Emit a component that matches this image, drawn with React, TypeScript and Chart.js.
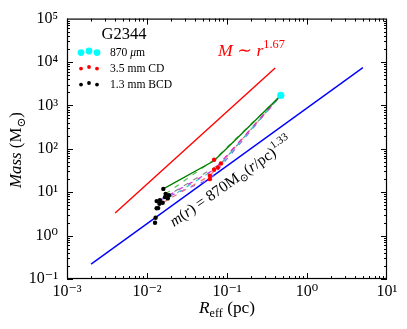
import React, { useEffect, useRef } from 'react';
import { Chart, registerables } from 'chart.js';
Chart.register(...registerables);

const SERIF = '"Liberation Serif", "DejaVu Serif", serif';

// Axis ticks
const xTickValues = [1e-3, 1e-2, 1e-1, 1, 10];
const xTickLabels = ['10⁻³', '10⁻²', '10⁻¹', '10⁰', '10¹'];
const yTickValues = [0.1, 1, 10, 100, 1e3, 1e4, 1e5];
const yTickLabels = ['10⁻¹', '10⁰', '10¹', '10²', '10³', '10⁴', '10⁵'];

// 870 um clump
const cyanR = [0.47];
const cyanM = [1700];
// 3.5 mm CD
const redR = [0.061, 0.061, 0.069, 0.077, 0.084, 0.069];
const redM = [24, 20, 33, 37, 46, 56];
// 1.3 mm BCD
const blackR = [0.0126, 0.0128, 0.0132, 0.0138, 0.0132, 0.0145, 0.0157, 0.0143, 0.016, 0.0171, 0.0188, 0.0168, 0.0182];
const blackM = [1.97, 2.57, 4.27, 4.3, 6.24, 6.58, 5.71, 5.42, 11.9, 9.15, 8.55, 7.7, 7.19];
// green track
const greenR = [0.016, 0.069, 0.47];
const greenM = [12, 53, 1700];
// M ~ r^1.67 line
const redLineR = [0.004, 0.4];
const redLineM = [3.3, 7300];
// m(r) = 870 (r/pc)^1.33 line
const blueLineR = [0.002, 5];
const blueLineM = [0.22, 7400];
// dashed hierarchy tracks
const dashColors = ['#cc33cc', '#33d0d0', '#8a8a8a', '#50c050', '#ff7070', '#9060ff'];
const dashR = [
  [0.0188, 0.069, 0.47],
  [0.0182, 0.077, 0.47],
  [0.0168, 0.084, 0.47],
  [0.0171, 0.069, 0.47],
  [0.0157, 0.061, 0.47],
  [0.0145, 0.061, 0.47],
];
const dashM = [
  [8.55, 33, 1700],
  [7.19, 37, 1700],
  [7.7, 46, 1700],
  [9.15, 56, 1700],
  [5.71, 24, 1700],
  [6.58, 20, 1700],
];

type Run = { t: string; it?: boolean; s?: number; dy?: number };

function fontOf(r: Run, size: number) {
  return `${r.it ? 'italic ' : ''}${(size * (r.s ?? 1)).toFixed(2)}px ${SERIF}`;
}
function runsWidth(ctx: CanvasRenderingContext2D, runs: Run[], size: number) {
  let w = 0;
  for (const r of runs) {
    ctx.font = fontOf(r, size);
    w += ctx.measureText(r.t).width;
  }
  return w;
}
function drawRuns(ctx: CanvasRenderingContext2D, runs: Run[], x: number, y: number, size: number, align: 'left' | 'center') {
  const w = runsWidth(ctx, runs, size);
  let cx = align === 'center' ? x - w / 2 : x;
  ctx.textAlign = 'left';
  ctx.textBaseline = 'alphabetic';
  for (const r of runs) {
    ctx.font = fontOf(r, size);
    ctx.fillText(r.t, cx, y + (r.dy ?? 0) * size);
    cx += ctx.measureText(r.t).width;
  }
}
function fitSize(ctx: CanvasRenderingContext2D, runs: Run[], base: number, target: number) {
  return (base * target) / runsWidth(ctx, runs, base);
}

const decor = {
  id: 'decor',
  afterDraw(chart: any) {
    const { ctx, chartArea } = chart;
    const { left, right, top, bottom } = chartArea;
    const xs = chart.scales.x;
    const ys = chart.scales.y;
    ctx.save();
    // frame
    ctx.strokeStyle = '#000';
    ctx.lineWidth = 1.2;
    ctx.strokeRect(left + 0.5, top + 0.5, right - left - 1, bottom - top - 1);
    // ticks
    ctx.lineWidth = 1;
    ctx.beginPath();
    for (let e = -3; e < 1; e++) {
      for (let k = 1; k <= 9; k++) {
        const v = k * Math.pow(10, e);
        const px = Math.round(xs.getPixelForValue(v)) + 0.5;
        const len = k === 1 ? 6 : 3;
        ctx.moveTo(px, bottom); ctx.lineTo(px, bottom - len);
        ctx.moveTo(px, top); ctx.lineTo(px, top + len);
      }
    }
    for (let e = -1; e < 5; e++) {
      for (let k = 1; k <= 9; k++) {
        const v = k * Math.pow(10, e);
        const py = Math.round(ys.getPixelForValue(v)) + 0.5;
        const len = k === 1 ? 6 : 3;
        ctx.moveTo(left, py); ctx.lineTo(left + len, py);
        ctx.moveTo(right, py); ctx.lineTo(right - len, py);
      }
    }
    ctx.stroke();

    ctx.fillStyle = '#000';
    // y axis title
    const yTitle: Run[] = [{ t: 'Mass', it: true }, { t: ' (M' }, { t: '⊙', s: 0.7, dy: 0.22 }, { t: ')' }];
    ctx.save();
    ctx.translate(21, 150);
    ctx.rotate(-Math.PI / 2);
    drawRuns(ctx, yTitle, 0, 0, fitSize(ctx, yTitle, 16, 76), 'center');
    ctx.restore();
    // x axis title
    const xTitle: Run[] = [{ t: 'R', it: true }, { t: 'eff', s: 0.7, dy: 0.22 }, { t: ' (pc)' }];
    drawRuns(ctx, xTitle, 227, 313, fitSize(ctx, xTitle, 16, 56), 'center');

    // legend title
    const g: Run[] = [{ t: 'G2344' }];
    drawRuns(ctx, g, 124, 39, fitSize(ctx, g, 16, 45), 'center');
    // legend entries
    const legendRows = [
      { color: '#00ffff', r: 3.4, runs: [{ t: '870 ' }, { t: 'μ', it: true }, { t: 'm' }] as Run[], y: 52 },
      { color: '#ff0000', r: 1.9, runs: [{ t: '3.5 mm CD' }] as Run[], y: 68 },
      { color: '#000000', r: 1.9, runs: [{ t: '1.3 mm BCD' }] as Run[], y: 84 },
    ];
    const lx = [81, 89, 97];
    const loff = [0.6, -1, 0.6];
    for (const row of legendRows) {
      ctx.fillStyle = row.color;
      lx.forEach((x, i) => {
        ctx.beginPath();
        ctx.arc(x, row.y + loff[i], row.r, 0, Math.PI * 2);
        ctx.fill();
      });
      ctx.fillStyle = '#000';
      drawRuns(ctx, row.runs, 110, row.y + 4, 11.6, 'left');
    }

    // M ~ r^1.67
    ctx.fillStyle = '#ff0000';
    const mr: Run[] = [{ t: 'M', it: true }, { t: ' ∼ ' }, { t: 'r', it: true }, { t: '1.67', s: 0.7, dy: -0.45 }];
    drawRuns(ctx, mr, 218, 56, fitSize(ctx, mr, 18, 67), 'left');

    // m(r) = 870 M_sun (r/pc)^1.33
    ctx.fillStyle = '#000';
    const ann: Run[] = [
      { t: 'm', it: true }, { t: '(' }, { t: 'r', it: true }, { t: ') = 870M' },
      { t: '⊙', s: 0.7, dy: 0.22 }, { t: '(' }, { t: 'r', it: true }, { t: '/pc)' },
      { t: '1.33', s: 0.7, dy: -0.45 },
    ];
    ctx.save();
    ctx.translate(174, 227);
    ctx.rotate((-35 * Math.PI) / 180);
    drawRuns(ctx, ann, 0, 0, fitSize(ctx, ann, 14, 145), 'left');
    ctx.restore();

    ctx.restore();
  },
};

const pts = (xs: number[], ys: number[]) => xs.map((x, i) => ({ x, y: ys[i] }));

export default function App() {
  const ref = useRef<HTMLCanvasElement>(null);
  useEffect(() => {
    if (!ref.current) return;
    const scatter = (data: any, color: string, r: number, order: number) => ({
      data, backgroundColor: color, borderColor: color, pointRadius: r, pointBorderWidth: 0,
      pointHoverRadius: r, showLine: false, order,
    });
    const line = (data: any, color: string, w: number, order: number, dash: number[] = []) => ({
      data, borderColor: color, backgroundColor: color, borderWidth: w, pointRadius: 0,
      pointHoverRadius: 0, showLine: true, fill: false, tension: 0, borderDash: dash, order,
    });
    const datasets: any[] = [
      scatter(pts(cyanR, cyanM), '#00ffff', 3.6, 0),
      scatter(pts(redR, redM), '#ff0000', 2.2, 1),
      scatter(pts(blackR, blackM), '#000000', 2.2, 2),
      line(pts(greenR, greenM), '#008000', 1.4, 3),
      ...dashR.map((rs, i) => line(pts(rs, dashM[i]), dashColors[i], 1.2, 4 + i, [5, 6])),
      line(pts(redLineR, redLineM), '#ff0000', 1.4, 20),
      line(pts(blueLineR, blueLineM), '#0000ff', 1.4, 21),
    ];
    const chart = new Chart(ref.current, {
      type: 'scatter',
      data: { datasets },
      options: {
        responsive: true,
        maintainAspectRatio: false,
        animation: false,
        layout: { padding: { top: 15, right: 20, left: 0, bottom: 0 } },
        plugins: { legend: { display: false }, tooltip: { enabled: false } },
        scales: {
          x: {
            type: 'logarithmic', min: 1e-3, max: 10, position: 'bottom',
            afterBuildTicks: (s: any) => { s.ticks = xTickValues.map((v) => ({ value: v })); },
            afterFit: (s: any) => { s.height = 50; },
            grid: { display: false, drawTicks: false },
            border: { display: false },
            ticks: {
              autoSkip: false, maxRotation: 0, padding: 3, color: '#000',
              font: { family: SERIF, size: 16 },
              callback: (_v: any, i: number) => xTickLabels[i],
            },
          },
          y: {
            type: 'logarithmic', min: 0.1, max: 1e5, position: 'left',
            afterBuildTicks: (s: any) => { s.ticks = yTickValues.map((v) => ({ value: v })); },
            afterFit: (s: any) => { s.width = 67; },
            grid: { display: false, drawTicks: false },
            border: { display: false },
            ticks: {
              autoSkip: false, padding: 9, color: '#000',
              font: { family: SERIF, size: 16 },
              callback: (_v: any, i: number) => yTickLabels[i],
            },
          },
        },
      } as any,
      plugins: [decor],
    });
    return () => chart.destroy();
  }, []);
  return (
    <div style={{ position: 'absolute', left: 0, top: 0, width: 407, height: 329 }}>
      <canvas ref={ref} />
    </div>
  );
}
